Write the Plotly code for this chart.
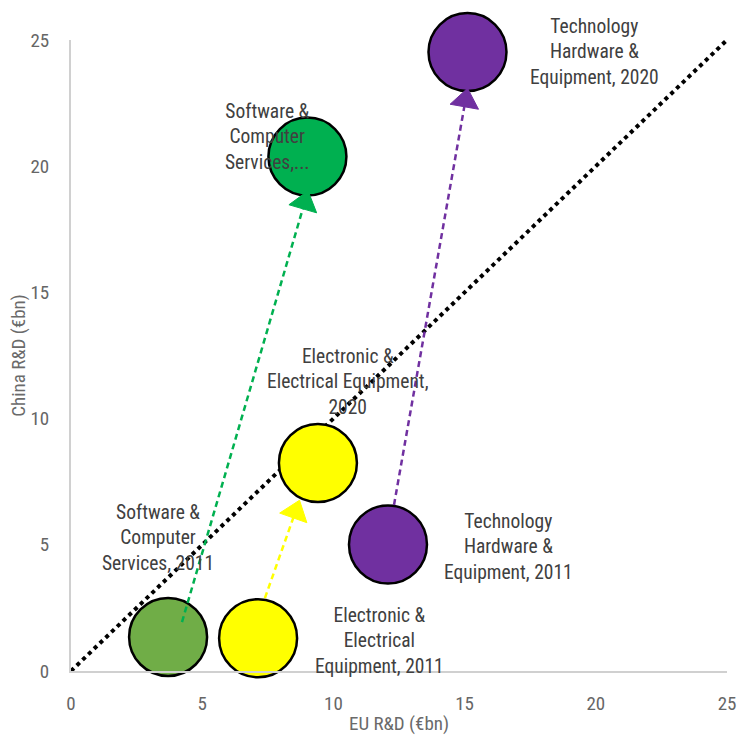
import plotly.graph_objects as go

# Data (EU R&D vs China R&D, €bn)
sectors = ["Software & Computer Services", "Electronic & Electrical Equipment",
           "Technology Hardware & Equipment"]
eu_2011 = [3.70, 7.13, 12.08]
cn_2011 = [1.35, 1.30, 5.01]
eu_2020 = [9.01, 9.41, 15.11]
cn_2020 = [20.38, 8.24, 24.52]
labels_2011 = ["Software &<br>Computer<br>Services, 2011",
               "Electronic &<br>Electrical<br>Equipment, 2011",
               "Technology<br>Hardware &<br>Equipment, 2011"]
labels_2020 = ["Software &<br>Computer<br>Services,...",
               "Electronic &<br>Electrical Equipment,<br>2020",
               "Technology<br>Hardware &<br>Equipment, 2020"]
# arrow start/end points (data units)
arrow_x0 = [4.23, 7.39, 12.31]
arrow_y0 = [1.94, 2.89, 6.58]
arrow_x1 = [8.90, 8.55, 15.03]
arrow_y1 = [18.55, 6.3, 22.6]
diag = [0, 25]

col_2011 = ["#70AD47", "#FFFF00", "#7030A0"]
col_2020 = ["#00B050", "#FFFF00", "#7030A0"]
col_arrow = ["#00B050", "#FFFF00", "#7030A0"]

FONT = "Liberation Sans Narrow, Roboto Condensed, Arial Narrow, sans-serif"

fig = go.Figure()
fig.add_trace(go.Scatter(x=diag, y=diag, mode="lines",
                         line=dict(color="black", width=4, dash="dot"),
                         hoverinfo="skip", showlegend=False, cliponaxis=False))
for i in range(3):
    fig.add_trace(go.Scatter(x=[eu_2011[i]], y=[cn_2011[i]], mode="markers",
                             marker=dict(size=78, color=col_2011[i],
                                         line=dict(color="black", width=2.5)),
                             name=sectors[i] + " 2011", showlegend=False,
                             cliponaxis=False))
    fig.add_trace(go.Scatter(x=[eu_2020[i]], y=[cn_2020[i]], mode="markers",
                             marker=dict(size=78, color=col_2020[i],
                                         line=dict(color="black", width=2.5)),
                             name=sectors[i] + " 2020", showlegend=False,
                             cliponaxis=False))
for i in range(3):
    fig.add_trace(go.Scatter(x=[arrow_x0[i], arrow_x1[i]], y=[arrow_y0[i], arrow_y1[i]],
                             mode="lines",
                             line=dict(color=col_arrow[i], width=2.5, dash="6px,4px"),
                             hoverinfo="skip", showlegend=False, cliponaxis=False))
    fig.add_trace(go.Scatter(x=[arrow_x0[i], arrow_x1[i]], y=[arrow_y0[i], arrow_y1[i]],
                             mode="markers",
                             marker=dict(symbol="triangle-up", size=[0, 25], opacity=1,
                                         color=col_arrow[i], angleref="previous",
                                         line=dict(width=1, color=col_arrow[i])),
                             hoverinfo="skip", showlegend=False, cliponaxis=False))

shifts_2011 = [(-10, 99), (121, -3), (121, -2)]
shifts_2020 = [(-40, 20), (30, 81), (127, 0)]
LBL = dict(family=FONT, size=19.5, color="#404040")
for i in range(3):
    fig.add_annotation(x=eu_2011[i], y=cn_2011[i], text=labels_2011[i], showarrow=False,
                       xshift=shifts_2011[i][0], yshift=shifts_2011[i][1],
                       font=LBL, align="center")
    fig.add_annotation(x=eu_2020[i], y=cn_2020[i], text=labels_2020[i], showarrow=False,
                       xshift=shifts_2020[i][0], yshift=shifts_2020[i][1],
                       font=LBL, align="center")

axis_common = dict(range=[0, 25], dtick=5, showgrid=False, zeroline=False,
                   showline=True, linecolor="#D0D0D0", linewidth=2,
                   tickfont=dict(family=FONT, size=19, color="#666666"),
                   ticks="", automargin=False)
fig.update_xaxes(**axis_common, ticklabelstandoff=14,
                 title=dict(text="EU R&D (€bn)", standoff=6,
                            font=dict(family=FONT, size=19, color="#6a6a6a")))
fig.update_yaxes(**axis_common, ticklabelstandoff=16,
                 title=dict(text="China R&D (€bn)", standoff=0,
                            font=dict(family=FONT, size=19, color="#6a6a6a")))
fig.update_layout(width=739, height=735, plot_bgcolor="white", paper_bgcolor="white",
                  margin=dict(l=71, r=12, t=40, b=64))
fig.write_html("out.html", config={"displayModeBar": False},
               post_script="document.body.style.margin='0';document.body.style.overflow='hidden';")
